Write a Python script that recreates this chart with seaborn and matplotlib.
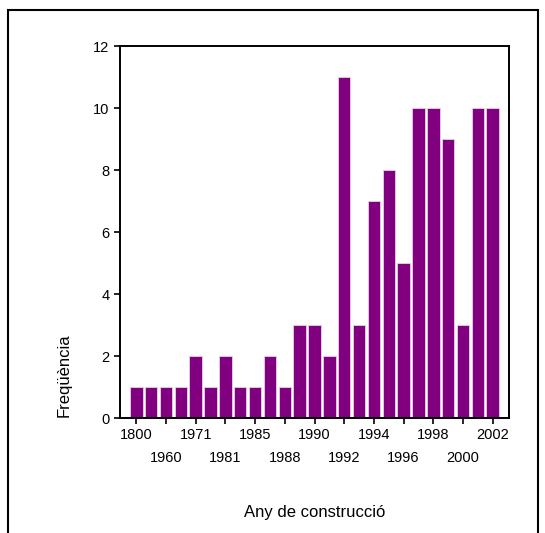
import matplotlib
matplotlib.use("Agg")
import matplotlib.pyplot as plt
import seaborn as sns
import pandas as pd
from matplotlib.patches import Rectangle

# years of construction (unlabelled ones in the picture are estimated)
anys = ["1800", "1900", "1960", "1965", "1971", "1975", "1981", "1983", "1985",
        "1987", "1988", "1989", "1990", "1991", "1992", "1993", "1994", "1995",
        "1996", "1997", "1998", "1999", "2000", "2001", "2002"]
freq = [1, 1, 1, 1, 2, 1, 2, 1, 1, 2, 1, 3, 3, 2, 11, 3, 7, 8, 5, 10, 10, 9, 3, 10, 10]

df = pd.DataFrame({"any": anys, "freq": freq})

sns.set_style("white")
plt.rcParams["font.family"] = ["Liberation Sans", "DejaVu Sans"]
plt.rcParams["text.color"] = "black"
plt.rcParams["axes.labelcolor"] = "black"

fig = plt.figure(figsize=(5.45, 5.33), dpi=100)
ax = fig.add_axes([120 / 545, 1 - 418 / 533, 389 / 545, 372 / 533])

sns.barplot(data=df, x="any", y="freq", color="#800080", saturation=1,
            width=0.84, edgecolor="#e8d0e8", linewidth=0.6, ax=ax)

ax.set_xlim(-1.1, 25.1)
ax.set_ylim(0, 12)
ax.set_yticks(range(0, 13, 2))
ax.set_yticklabels([str(v) for v in range(0, 13, 2)], fontsize=10.5)

# every second year labelled, alternating in two rows
pos = list(range(0, len(anys), 2))
ax.set_xticks(pos)
ax.set_xticklabels([anys[i] for i in pos], fontsize=10.5)
for k, t in enumerate(ax.xaxis.get_major_ticks()):
    t.set_pad(20 if k % 2 == 1 else 3)

ax.tick_params(axis="both", direction="out", length=4, width=1.2,
               color="black", labelcolor="black", bottom=True, left=True)
for s in ax.spines.values():
    s.set_color("black")
    s.set_linewidth(1.4)

ax.set_xlabel("Any de construcció", fontsize=12)
ax.set_ylabel("Freqüència", fontsize=12)
ax.xaxis.set_label_coords(0.5, -0.235)
ax.yaxis.set_label_coords(-0.125, 0.115)

fig.patches.append(Rectangle((8 / 545, -0.05), 530 / 545, 1.05 - 10 / 533,
                             transform=fig.transFigure, fill=False,
                             edgecolor="black", linewidth=1.5))

fig.savefig("out.png", dpi=100)
